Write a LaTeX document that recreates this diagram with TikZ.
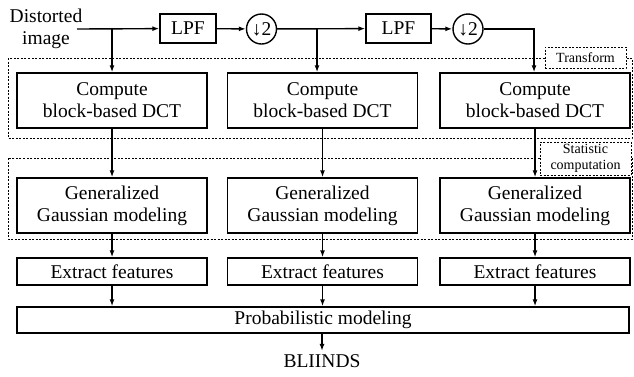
\documentclass[tikz,border=0pt]{standalone}
\usepackage{fontspec}
\setmainfont{Liberation Serif}
\usetikzlibrary{arrows.meta}
\begin{document}
\begin{tikzpicture}[x=1pt, y=-1pt,
  font=\fontsize{19.5}{22}\selectfont,
  blk/.style={draw, line width=1.4pt, inner sep=0pt, align=center, minimum width=190pt},
  arr/.style={line width=1.4pt, -{Latex[length=7pt,width=5pt]}},
  grp/.style={draw, line width=0.7pt, dash pattern=on 2pt off 1.5pt},
  tag/.style={grp, fill=white, inner sep=0pt, align=center, font=\fontsize{14}{16.5}\selectfont}]
  \useasboundingbox (0,0) rectangle (634,376);
  % Zones en pointillés
  \draw[grp] (8,58) rectangle (632,138);
  \draw[grp] (8,158) rectangle (632,239);
  \node[tag, minimum width=81pt, minimum height=21pt] (tagT) at (585.5,57.5) {Transform};
  \node[tag, minimum width=91pt, minimum height=33pt] (tagS) at (585.5,158.5) {Statistic\\computation};
  % Chaîne de décomposition
  \node[align=center] (src) at (46,29) {Distorted\\image};
  \coordinate (in) at (77,29);
  \node[blk, minimum width=56pt, minimum height=29pt] (lpf1) at (188,28.5) {LPF};
  \node[draw, circle, line width=1.4pt, minimum size=30pt, inner sep=0pt] (ds1) at (261.5,29) {↓2};
  \node[blk, minimum width=65pt, minimum height=29pt] (lpf2) at (398.5,28.5) {LPF};
  \node[draw, circle, line width=1.4pt, minimum size=30pt, inner sep=0pt] (ds2) at (468,29) {↓2};
  \coordinate (br1) at (317,29);
  \coordinate (br2) at (534,29);
  % Colonnes
  \foreach \i/\x in {1/112, 2/322.5, 3/535} {
    \node[blk, minimum height=55pt] (dct\i) at (\x,100.5) {Compute\\block-based DCT};
    \node[blk, minimum height=55pt] (ggd\i) at (\x,205.5) {Generalized\\Gaussian modeling};
    \node[blk, minimum height=27pt] (ext\i) at (\x,271.5) {Extract features};
    \draw[arr] (dct\i) -- (ggd\i);
    \draw[arr] (ggd\i) -- (ext\i);
  }
  \node[blk, minimum width=612pt, minimum height=26pt] (prob) at (323,320) {Probabilistic modeling};
  \node (out) at (322,361) {BLIINDS};
  \foreach \i in {1,2,3}
    \draw[arr] (ext\i) -- (ext\i |- prob.north);
  \draw[arr] (prob.south -| out) -- (out);
  % Liaisons du haut
  \draw[arr] (in) -- (lpf1);
  \draw[arr] (in -| dct1) -- (dct1);
  \draw[arr] (lpf1) -- (ds1);
  \draw[arr] (ds1) -- (lpf2);
  \draw[arr] (br1) -- (br1 |- dct2.north);
  \draw[arr] (lpf2) -- (ds2);
  \draw[arr] (ds2) -- (br2) -- (br2 |- dct3.north);
\end{tikzpicture}
\end{document}
